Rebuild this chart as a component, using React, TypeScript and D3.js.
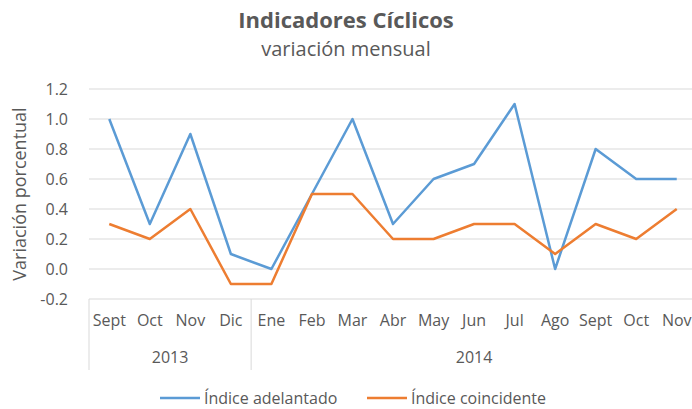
import React from 'react';
import * as d3 from 'd3';

const months = ['Sept', 'Oct', 'Nov', 'Dic', 'Ene', 'Feb', 'Mar', 'Abr', 'May', 'Jun', 'Jul', 'Ago', 'Sept', 'Oct', 'Nov'];
const years = [
  { label: '2013', from: 0, to: 4 },
  { label: '2014', from: 4, to: 15 },
];
const adelantado = [1.0, 0.3, 0.9, 0.1, 0.0, 0.5, 1.0, 0.3, 0.6, 0.7, 1.1, 0.0, 0.8, 0.6, 0.6];
const coincidente = [0.3, 0.2, 0.4, -0.1, -0.1, 0.5, 0.5, 0.2, 0.2, 0.3, 0.3, 0.1, 0.3, 0.2, 0.4];
const yTicks = [-0.2, 0, 0.2, 0.4, 0.6, 0.8, 1.0, 1.2];

const W = 692;
const H = 409;
const font = 'Open Sans, Noto Sans, sans-serif';
const textColor = '#595959';
const grid = '#D9D9D9';
const blue = '#5B9BD5';
const orange = '#ED7D31';

export default function App() {
  const left = 89;
  const right = 697;
  const x = d3.scaleBand<number>().domain(d3.range(months.length)).range([left, right]);
  const y = d3.scaleLinear().domain([-0.2, 1.2]).range([299, 89]);
  const cx = (i: number) => (x(i) as number) + x.bandwidth() / 2;

  const line = d3.line<number>().x((_, i) => cx(i)).y(d => y(d));

  const series = [
    { name: 'Índice adelantado', values: adelantado, color: blue },
    { name: 'Índice coincidente', values: coincidente, color: orange },
  ];

  return (
    <svg width={W} height={H} style={{ position: 'absolute', left: 0, top: 0, background: '#fff' }}>
      <text x={W / 2} y={28} textAnchor="middle" fontFamily={font} fontSize={22} fontWeight="bold" fill={textColor}>
        Indicadores Cíclicos
      </text>
      <text x={W / 2} y={56} textAnchor="middle" fontFamily={font} fontSize={20} fill={textColor}>
        variación mensual
      </text>

      {yTicks.map(t => (
        <g key={t}>
          <line x1={left} x2={right} y1={y(t)} y2={y(t)} stroke={grid} strokeWidth={1} />
          <text x={68} y={y(t) + 6} textAnchor="end" fontFamily={font} fontSize={16} fill={textColor}>
            {t.toFixed(1)}
          </text>
        </g>
      ))}

      <text
        transform={`translate(26, ${y(0.5)}) rotate(-90)`}
        textAnchor="middle"
        fontFamily={font}
        fontSize={18}
        fill={textColor}
      >
        Variación porcentual
      </text>

      {years.map(yr => {
        const x0 = x(yr.from) as number;
        const x1 = yr.to >= months.length ? right : (x(yr.to) as number);
        return (
          <g key={yr.label}>
            <line x1={x0} x2={x0} y1={299} y2={370} stroke={grid} />
            <text x={(x0 + x1) / 2} y={363} textAnchor="middle" fontFamily={font} fontSize={16} fill={textColor}>
              {yr.label}
            </text>
          </g>
        );
      })}

      {months.map((m, i) => (
        <text key={i} x={cx(i)} y={326} textAnchor="middle" fontFamily={font} fontSize={16} fill={textColor}>
          {m}
        </text>
      ))}

      {series.map(s => (
        <path key={s.name} d={line(s.values) || ''} fill="none" stroke={s.color} strokeWidth={2.5} strokeLinejoin="round" />
      ))}

      {series.map((s, i) => {
        const lx = i === 0 ? 160 : 367;
        return (
          <g key={s.name}>
            <line x1={lx} x2={lx + 40} y1={398} y2={398} stroke={s.color} strokeWidth={2.5} />
            <text x={lx + 44} y={404} fontFamily={font} fontSize={16} fill={textColor}>
              {s.name}
            </text>
          </g>
        );
      })}
    </svg>
  );
}
